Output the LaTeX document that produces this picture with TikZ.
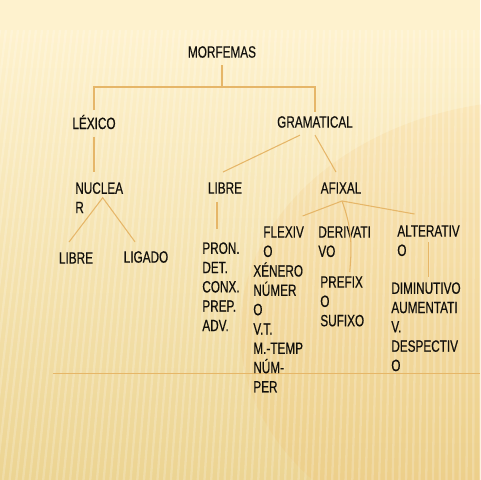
\documentclass[tikz,border=0pt]{standalone}
\usepackage{fontspec}
\setmainfont[FakeStretch=0.72, FakeBold=0.4]{Liberation Sans}

\definecolor{textcol}{RGB}{18,16,12}
\definecolor{linecol}{RGB}{230,182,104}
\definecolor{bgtop}{RGB}{254,242,206}
\definecolor{bgmid}{RGB}{250,234,182}
\definecolor{bgbot}{RGB}{236,212,146}

\begin{document}
\begin{tikzpicture}[x=0.02cm, y=-0.02cm,
	word/.style={inner sep=0pt, text=textcol, font=\fontsize{9.3}{11}\selectfont},
	block/.style={word, align=left, anchor=north west},
	branch/.style={draw=linecol, line width=0.6pt}]
		% slide background
		\useasboundingbox (0, 0) rectangle (480, 480);
		\fill[bgtop] (0, 0) rectangle (480, 30);
		\shade[top color=bgtop, middle color=bgmid, bottom color=bgbot] (0, 30) rectangle (480, 480);
		\fill[orange!50!bgbot, opacity=0.1] (540, 330) ellipse (300 and 230);
		\begin{scope}
			\clip (0, 30) rectangle (480, 480);
			\foreach \s in {0, 6, ..., 486}
				\draw[white, opacity=0.2, line width=1.3pt] (\s, 30)--({\s-0.12*(480-\s)}, 480);
		\end{scope}
		\draw[linecol, line width=0.5pt] (53, 373)--(480, 373);

		% tree
		\node[word](MORF) at (222, 52){MORFEMAS};
		\node[word](LEX) at (94, 122){LÉXICO};
		\node[word](GRAM) at (315, 122){GRAMATICAL};
		\node[block](NUC) at (75, 182){NUCLEA\\R};
		\node[word](LIBL) at (76, 258){LIBRE};
		\node[word](LIG) at (146, 257){LIGADO};
		\node[word](LIBM) at (225, 188){LIBRE};
		\node[block](PRON) at (202, 242){PRON.\\DET.\\CONX.\\PREP.\\ADV.};
		\node[word](AFIX) at (341, 188){AFIXAL};
		\node[block](FLEX) at (263, 226){FLEXIV\\O};
		\node[block](XEN) at (253, 262){XÉNERO\\NÚMER\\O\\V.T.\\M.-TEMP\\NÚM-\\PER};
		\node[block](DERIV) at (318, 226){DERIVATI\\VO};
		\node[block](PREF) at (320, 276){PREFIX\\O\\SUFIXO};
		\node[block](ALT) at (397, 225){ALTERATIV\\O};
		\node[block](DIM) at (391, 282){DIMINUTIVO\\AUMENTATI\\V.\\DESPECTIV\\O};

		\coordinate(TOP) at (222, 87);
		\coordinate(AFX) at ([xshift=0.02cm, yshift=-0.14cm]AFIX.south);

		\draw[branch] ([yshift=-0.14cm]MORF.south)--(TOP);
		\draw[branch] ([yshift=0.08cm]LEX.north) |- (TOP) -| ([yshift=0.08cm]GRAM.north);
		\draw[branch] ([yshift=-0.14cm]LEX.south)--([yshift=0.2cm]LEX.south |- NUC.north);
		\draw[branch] ([xshift=-0.3cm, yshift=-0.14cm]GRAM.south)--([xshift=-0.04cm, yshift=0.2cm]LIBM.north);
		\draw[branch] ([yshift=-0.14cm]GRAM.south)--([xshift=-0.1cm, yshift=0.2cm]AFIX.north);
		\draw[branch] ([xshift=-0.14cm, yshift=0.2cm]LIBL.north)--([xshift=0.07cm]NUC.center)--([xshift=-0.22cm, yshift=0.18cm]LIG.north);
		\draw[branch] ([xshift=-0.16cm, yshift=-0.16cm]LIBM.south)--([xshift=-0.16cm, yshift=0.26cm]LIBM.south |- PRON.north);
		\draw[branch] ([xshift=0.38cm, yshift=0.2cm]FLEX.north)--(AFX)--([xshift=-0.28cm, yshift=0.22cm]ALT.north);
		\draw[branch] (AFX) to[out=-70, in=85] ([xshift=0.15cm, yshift=0.08cm]PREF.north);
		\draw[branch] ([yshift=0.28cm]ALT.south)--([yshift=0.1cm]ALT.south |- DIM.north);
\end{tikzpicture}
\end{document}
